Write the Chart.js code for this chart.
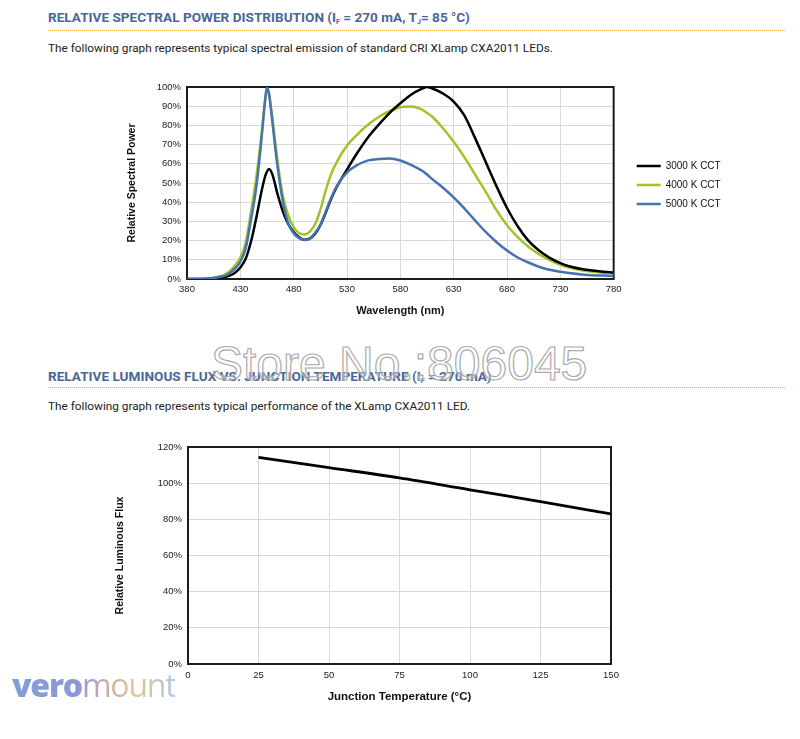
<!DOCTYPE html>
<html lang="en">
  <head>
    <meta charset="utf-8" />
    <title>CXA2011 curves</title>
    <style>
      * {
        margin: 0;
        padding: 0;
      }
      body {
        width: 800px;
        height: 739px;
        background: white;
        position: relative;
        overflow: hidden;
        font-family: Roboto, sans-serif;
      }
      .head {
        position: absolute;
        left: 48px;
        font-weight: bold;
        font-size: 13.6px;
        line-height: 16px;
        color: rgb(74, 103, 151);
        white-space: nowrap;
      }
      .head sub {
        font-size: 7px;
        vertical-align: -2px;
      }
      .rule {
        position: absolute;
        left: 48px;
        width: 737px;
        border-top: 1px dotted rgb(236, 190, 70);
      }
      .lead {
        position: absolute;
        left: 48px;
        font-size: 11.8px;
        line-height: 16px;
        color: #222;
        white-space: nowrap;
      }
      .box {
        position: absolute;
      }
      .stamp {
        position: absolute;
        left: 211px;
        top: 336px;
        font-family: "Liberation Sans", Arial, sans-serif;
        font-size: 48px;
        color: rgba(255, 255, 255, 0.35);
        -webkit-text-stroke: 1.2px #ababab;
        white-space: nowrap;
      }
      .logo {
        position: absolute;
        left: 12px;
        top: 663px;
        font-family: "Open Sans", sans-serif;
        font-size: 32px;
        letter-spacing: -1.2px;
        white-space: nowrap;
      }
      .logo b {
        font-weight: 800;
        background: linear-gradient(90deg, #7f9fd8, #8e98d4);
        -webkit-background-clip: text;
        color: transparent;
      }
      .logo span {
        font-weight: 400;
        background: linear-gradient(90deg, #a995cf, #e7c48c 55%, #a9c9e6);
        -webkit-background-clip: text;
        color: transparent;
      }
    </style>
  </head>
  <body>
    <div class="head" style="top: 9px">
      RELATIVE SPECTRAL POWER DISTRIBUTION (I<sub>F</sub> = 270 mA, T<sub>J</sub>= 85 °C)
    </div>
    <div class="rule" style="top: 30px"></div>
    <div class="lead" style="top: 40px">
      The following graph represents typical spectral emission of standard CRI XLamp CXA2011 LEDs.
    </div>

    <div class="box" style="left: 110px; top: 75px; width: 680px; height: 250px">
      <canvas id="spd"></canvas>
    </div>

    <div class="head" style="top: 368px">
      RELATIVE LUMINOUS FLUX VS. JUNCTION TEMPERATURE (I<sub>F</sub> = 270 mA)
    </div>
    <div class="rule" style="top: 387px"></div>
    <div class="lead" style="top: 398px">
      The following graph represents typical performance of the XLamp CXA2011 LED.
    </div>

    <div class="box" style="left: 100px; top: 435px; width: 526px; height: 275px">
      <canvas id="flux"></canvas>
    </div>

    <div class="stamp">Store No.:806045</div>
    <div class="logo"><b>vero</b><span>mount</span></div>

    <script src="https://cdn.jsdelivr.net/npm/chart.js@4.4.1/dist/chart.umd.min.js"></script>
    <script>
      // spectrum data (nm, % of max)
      const wavelengths = [380, 390, 400, 405, 410, 415, 420, 425, 430, 435, 440, 445, 450,
        453, 455, 457, 460, 465, 470, 475, 480, 485, 490, 495, 500, 505, 510, 515, 520,
        530, 540, 550, 560, 570, 580, 590, 600, 605, 610, 620, 630, 640, 650, 660, 670, 680,
        690, 700, 710, 720, 730, 740, 750, 760, 770, 780];
      const cct3000 = [0, 0, 0, 0.2, 0.5, 1, 1.8, 3.3, 6, 10.5, 19.5, 32, 46,
        53, 56, 57.3, 54.5, 44, 35, 28.5, 24.5, 21.7, 20.4, 21, 23.5, 28, 34.5, 41.5, 47.5,
        57, 66, 74, 80.5, 86.5, 91.5, 96, 99, 100, 99.2, 96.6, 92.4, 85.2, 73.5, 61, 48.5, 37,
        27.5, 20, 14.8, 11, 8.3, 6.4, 5.2, 4.4, 3.8, 3.3];
      const cct4000 = [0, 0, 0.3, 0.7, 1.3, 2.2, 4, 7, 11, 19, 35, 53, 76,
        92, 99, 96, 84, 61, 43, 33, 27, 24, 23.2, 24.5, 28.5, 36, 46, 54.5, 60.5,
        69.5, 75.5, 80.5, 84.5, 87.5, 89.5, 89.8, 88.3, 86.5, 84.5, 78.5, 71.5, 63.5, 54.5, 45.5, 36, 28,
        21.8, 16.8, 12.9, 9.8, 7.4, 5.7, 4.6, 3.8, 3.3, 3];
      const cct5000 = [0, 0, 0.2, 0.5, 1, 1.6, 3, 5.5, 9, 16, 31, 48, 74,
        92, 100, 96, 82, 58, 40, 29, 23.8, 21.3, 20.3, 21, 24, 28, 35, 42, 48,
        55.5, 59.5, 61.8, 62.5, 62.7, 61.7, 59.5, 56.5, 54.4, 52, 47.5, 42.5, 36.8, 30.5, 24.5, 19.3, 14.8,
        11.2, 8.6, 6.4, 4.8, 3.8, 3, 2.4, 2, 1.8, 1.6];

      // flux vs junction temperature
      const junctionTemps = [25, 50, 75, 100, 125, 150];
      const relFlux = [114.3, 108.6, 102.9, 96.3, 89.8, 83];

      const axisFont = { family: "'Liberation Sans', Arial, sans-serif", size: 9.5 };
      const titleFont = { family: "'Liberation Sans', Arial, sans-serif", size: 11, weight: "bold" };
      const gridColor = "rgb(216, 216, 216)";

      // dark frame round the plot area
      const frame = {
        id: "frame",
        beforeDatasetsDraw(chart) {
          const { ctx, chartArea: { left, top, width, height } } = chart;
          ctx.save();
          ctx.strokeStyle = "#1c1c1c";
          ctx.lineWidth = 2;
          ctx.strokeRect(left, top, width, height);
          ctx.restore();
        },
      };

      // centre the right-hand legend on the plot area, not the whole canvas height
      const legendOnPlot = {
        id: "legendOnPlot",
        afterLayout(chart) {
          const lg = chart.legend;
          if (!lg) return;
          lg.top = chart.chartArea.top + 4;
          lg.bottom = chart.chartArea.bottom;
        },
      };

      const pts = (xs, ys) => xs.map((x, i) => ({ x: x, y: ys[i] }));

      const curve = (label, values, color, order) => ({
        label: label,
        data: pts(wavelengths, values),
        borderColor: color,
        backgroundColor: color,
        borderWidth: 2.5,
        pointRadius: 0,
        cubicInterpolationMode: "monotone",
        order: order,
      });

      new Chart(document.getElementById("spd"), {
        type: "line",
        data: {
          datasets: [
            curve("3000 K CCT", cct3000, "#000000", 2),
            curve("4000 K CCT", cct4000, "rgb(160, 196, 40)", 3),
            curve("5000 K CCT", cct5000, "rgb(69, 114, 176)", 1),
          ],
        },
        options: {
          responsive: true,
          maintainAspectRatio: false,
          animation: false,
          layout: { padding: { left: 16, top: 12, right: 62, bottom: 6 } },
          plugins: {
            tooltip: { enabled: false },
            legend: {
              position: "right",
              align: "center",
              labels: {
                usePointStyle: true,
                pointStyle: "line",
                pointStyleWidth: 24,
                padding: 9,
                color: "#111",
                font: { family: "'Liberation Sans', Arial, sans-serif", size: 10 },
                sort: (a, b) => a.datasetIndex - b.datasetIndex,
              },
            },
          },
          scales: {
            x: {
              type: "linear",
              min: 380,
              max: 780,
              afterFit: (s) => { s.height = 40; },
              ticks: { stepSize: 50, padding: 5, color: "#222", font: axisFont, maxRotation: 0 },
              grid: { color: gridColor, drawTicks: false },
              border: { display: false },
              title: {
                display: true,
                text: "Wavelength (nm)",
                color: "#111",
                font: titleFont,
                padding: { top: 0, bottom: 1 },
              },
            },
            y: {
              min: 0,
              max: 100,
              afterFit: (s) => { s.width = 61; },
              ticks: {
                stepSize: 10,
                padding: 6,
                color: "#222",
                font: axisFont,
                callback: (v) => v + "%",
              },
              grid: { color: gridColor, drawTicks: false },
              border: { display: false },
              title: {
                display: true,
                text: "Relative Spectral Power",
                color: "#111",
                font: { family: "'Liberation Sans', Arial, sans-serif", size: 10.5, weight: "bold" },
                padding: 0,
              },
            },
            gap: {
              type: "linear",
              position: "right",
              afterFit: (s) => { s.width = 14; },
              ticks: { display: false },
              grid: { display: false },
              border: { display: false },
            },
          },
        },
        plugins: [frame, legendOnPlot],
      });

      new Chart(document.getElementById("flux"), {
        type: "line",
        data: {
          datasets: [
            {
              label: "Relative Luminous Flux",
              data: pts(junctionTemps, relFlux),
              borderColor: "#000000",
              borderWidth: 2.8,
              pointRadius: 0,
              cubicInterpolationMode: "monotone",
            },
          ],
        },
        options: {
          responsive: true,
          maintainAspectRatio: false,
          animation: false,
          layout: { padding: { left: 14, top: 12, right: 15, bottom: 6 } },
          plugins: { legend: { display: false }, tooltip: { enabled: false } },
          scales: {
            x: {
              type: "linear",
              min: 0,
              max: 150,
              afterFit: (s) => { s.height = 40; },
              ticks: { stepSize: 25, padding: 6, color: "#222", font: axisFont, maxRotation: 0 },
              grid: { color: gridColor, drawTicks: false },
              border: { display: false },
              title: {
                display: true,
                text: "Junction Temperature (°C)",
                color: "#111",
                font: { family: "'Liberation Sans', Arial, sans-serif", size: 11.5, weight: "bold" },
                padding: 0,
              },
            },
            y: {
              min: 0,
              max: 120,
              afterFit: (s) => { s.width = 74; },
              ticks: {
                stepSize: 20,
                padding: 6,
                color: "#222",
                font: axisFont,
                callback: (v) => v + "%",
              },
              grid: { color: gridColor, drawTicks: false },
              border: { display: false },
              title: {
                display: true,
                text: "Relative Luminous Flux",
                color: "#111",
                font: { family: "'Liberation Sans', Arial, sans-serif", size: 10.5, weight: "bold" },
                padding: 0,
              },
            },
          },
        },
        plugins: [frame],
      });
    </script>
  </body>
</html>
